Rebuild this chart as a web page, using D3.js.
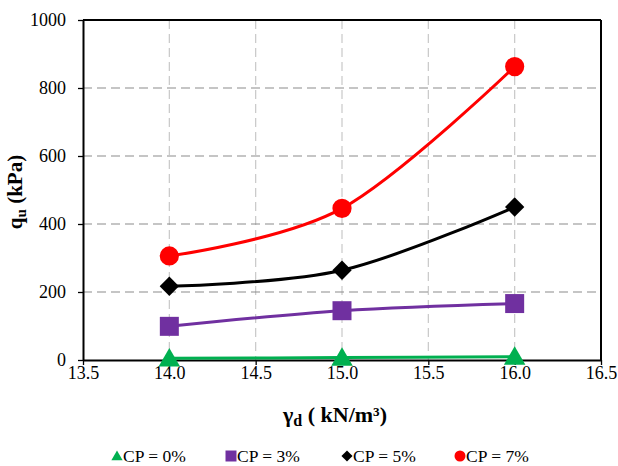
<!DOCTYPE html>
<html>
<head>
<meta charset="utf-8">
<script src="https://cdn.jsdelivr.net/npm/d3@7"></script>
<style>
  body { margin: 0; background: #fff; }
</style>
</head>
<body>
<svg id="chart" width="618" height="466"></svg>
<script>
// data
let density = [14.0, 15.0, 16.0];
let cp0 = [5, 7, 10];
let cp3 = [99, 145, 166];
let cp5 = [217, 264, 450];
let cp7 = [306, 446, 863];
let xTicks = [13.5, 14.0, 14.5, 15.0, 15.5, 16.0, 16.5];
let yTicks = [0, 200, 400, 600, 800, 1000];

let series = [
  { name: "CP = 0%", values: cp0, color: "#00B050", shape: "triangle" },
  { name: "CP = 3%", values: cp3, color: "#7030A0", shape: "square" },
  { name: "CP = 5%", values: cp5, color: "#000000", shape: "diamond" },
  { name: "CP = 7%", values: cp7, color: "#FF0000", shape: "circle" },
];

const FONT = "Liberation Serif";

let margin = { top: 20, right: 17, bottom: 106, left: 83 },
  width = 618 - margin.left - margin.right,
  height = 466 - margin.top - margin.bottom;

let svg = d3.select("#chart")
  .append("g")
  .attr("transform", "translate(" + margin.left + "," + margin.top + ")");

var x = d3.scaleLinear().domain([13.5, 16.5]).range([0, width]);
var y = d3.scaleLinear().domain([0, 1000]).range([height, 0]);

// grid
svg.append("g")
  .selectAll("line")
  .data(xTicks.slice(1, -1))
  .join("line")
  .attr("x1", (d) => x(d)).attr("x2", (d) => x(d))
  .attr("y1", 0).attr("y2", height)
  .attr("stroke", "#c8c8c8")
  .attr("stroke-width", 1.2)
  .attr("stroke-dasharray", "9,5");
svg.append("g")
  .selectAll("line")
  .data(yTicks.slice(1, -1))
  .join("line")
  .attr("x1", 0).attr("x2", width)
  .attr("y1", (d) => y(d)).attr("y2", (d) => y(d))
  .attr("stroke", "#8c8c8c")
  .attr("stroke-width", 1.2)
  .attr("stroke-dasharray", "9,5");

// axes
let xAxis = svg.append("g")
  .attr("transform", "translate(0," + height + ")")
  .call(d3.axisBottom(x).tickValues(xTicks).tickFormat(d3.format(".1f")).tickSize(5).tickSizeOuter(0));
let yAxis = svg.append("g")
  .call(d3.axisLeft(y).tickValues(yTicks).tickFormat(d3.format("d")).tickSize(5).tickSizeOuter(0));
[xAxis, yAxis].forEach((a) => {
  a.attr("font-family", FONT).attr("font-size", null);
  a.select(".domain").attr("stroke", "#000").attr("stroke-width", 2);
  a.selectAll(".tick line").attr("stroke", "#000").attr("stroke-width", 1.3);
  a.selectAll(".tick text")
    .style("font-family", FONT)
    .style("font-size", "18px")
    .attr("fill", "#000");
});
xAxis.selectAll(".tick text").attr("y", 19).attr("dy", 0);
yAxis.selectAll(".tick text").attr("dy", "0.33em").attr("x", -17);

// top and right frame
svg.append("line").attr("x1", 0).attr("x2", width).attr("y1", 0).attr("y2", 0)
  .attr("stroke", "#000").attr("stroke-width", 2);
svg.append("line").attr("x1", width).attr("x2", width).attr("y1", 0).attr("y2", height)
  .attr("stroke", "#000").attr("stroke-width", 2);

// lines
var valueline = d3.line()
  .x((d, i) => x(density[i]))
  .y((d) => y(d))
  .curve(d3.curveCardinal.tension(0));

series.forEach((s) => {
  svg.append("path")
    .datum(s.values)
    .attr("fill", "none")
    .attr("stroke", s.color)
    .attr("stroke-width", 3)
    .attr("d", valueline);
});

function symbolFor(shape, size) {
  if (shape === "triangle") return d3.symbol(d3.symbolTriangle, size)();
  if (shape === "square") return d3.symbol(d3.symbolSquare, size)();
  if (shape === "diamond") return d3.symbol(d3.symbolSquare, size * 0.55)();
  return d3.symbol(d3.symbolCircle, size)();
}

let markerSize = { triangle: 200, square: 361, diamond: 340, circle: 290 };
series.forEach((s) => {
  svg.append("g")
    .selectAll("path")
    .data(s.values)
    .join("path")
    .attr("d", symbolFor(s.shape, markerSize[s.shape]))
    .attr("transform", (d, i) =>
      "translate(" + x(density[i]) + "," + (y(d) + (s.shape === "triangle" ? 2 : 0)) + ")" +
      (s.shape === "diamond" ? " rotate(45)" : ""))
    .attr("fill", s.color);
});

// axis titles
let yt = svg.append("text")
  .attr("transform", "translate(" + (-61) + "," + 172 + ") rotate(-90)")
  .attr("text-anchor", "middle")
  .style("font-family", FONT)
  .style("font-size", "21px")
  .attr("font-weight", "bold");
yt.append("tspan").text("q");
yt.append("tspan").style("font-size", "15px").attr("dy", "4").text("u");
yt.append("tspan").attr("dy", "-4").text(" (kPa)");

let xt = svg.append("text")
  .attr("x", 252)
  .attr("y", height + 62)
  .attr("text-anchor", "middle")
  .style("font-family", FONT)
  .style("font-size", "22px")
  .attr("font-weight", "bold");
xt.append("tspan").text("γ");
xt.append("tspan").style("font-size", "16px").attr("dy", "4").text("d");
xt.append("tspan").attr("dy", "-4").text(" ( kN/m³)");

// legend
let legendX = [117, 231, 347, 460];
let legendSize = { triangle: 55, square: 121, diamond: 112, circle: 95 };
let legend = svg.append("g")
  .attr("transform", "translate(" + (-margin.left) + "," + (456 - margin.top) + ")");
series.forEach((s, i) => {
  let g = legend.append("g").attr("transform", "translate(" + legendX[i] + ",0)");
  g.append("path")
    .attr("d", symbolFor(s.shape, legendSize[s.shape]))
    .attr("transform", "translate(0," + (s.shape === "triangle" ? 1 : 0) + ")" + (s.shape === "diamond" ? " rotate(45)" : ""))
    .attr("fill", s.color);
  g.append("text")
    .attr("x", 6)
    .attr("y", 5.5)
    .style("font-family", FONT)
    .style("font-size", "17.5px")
    .text(s.name);
});
</script>
</body>
</html>
